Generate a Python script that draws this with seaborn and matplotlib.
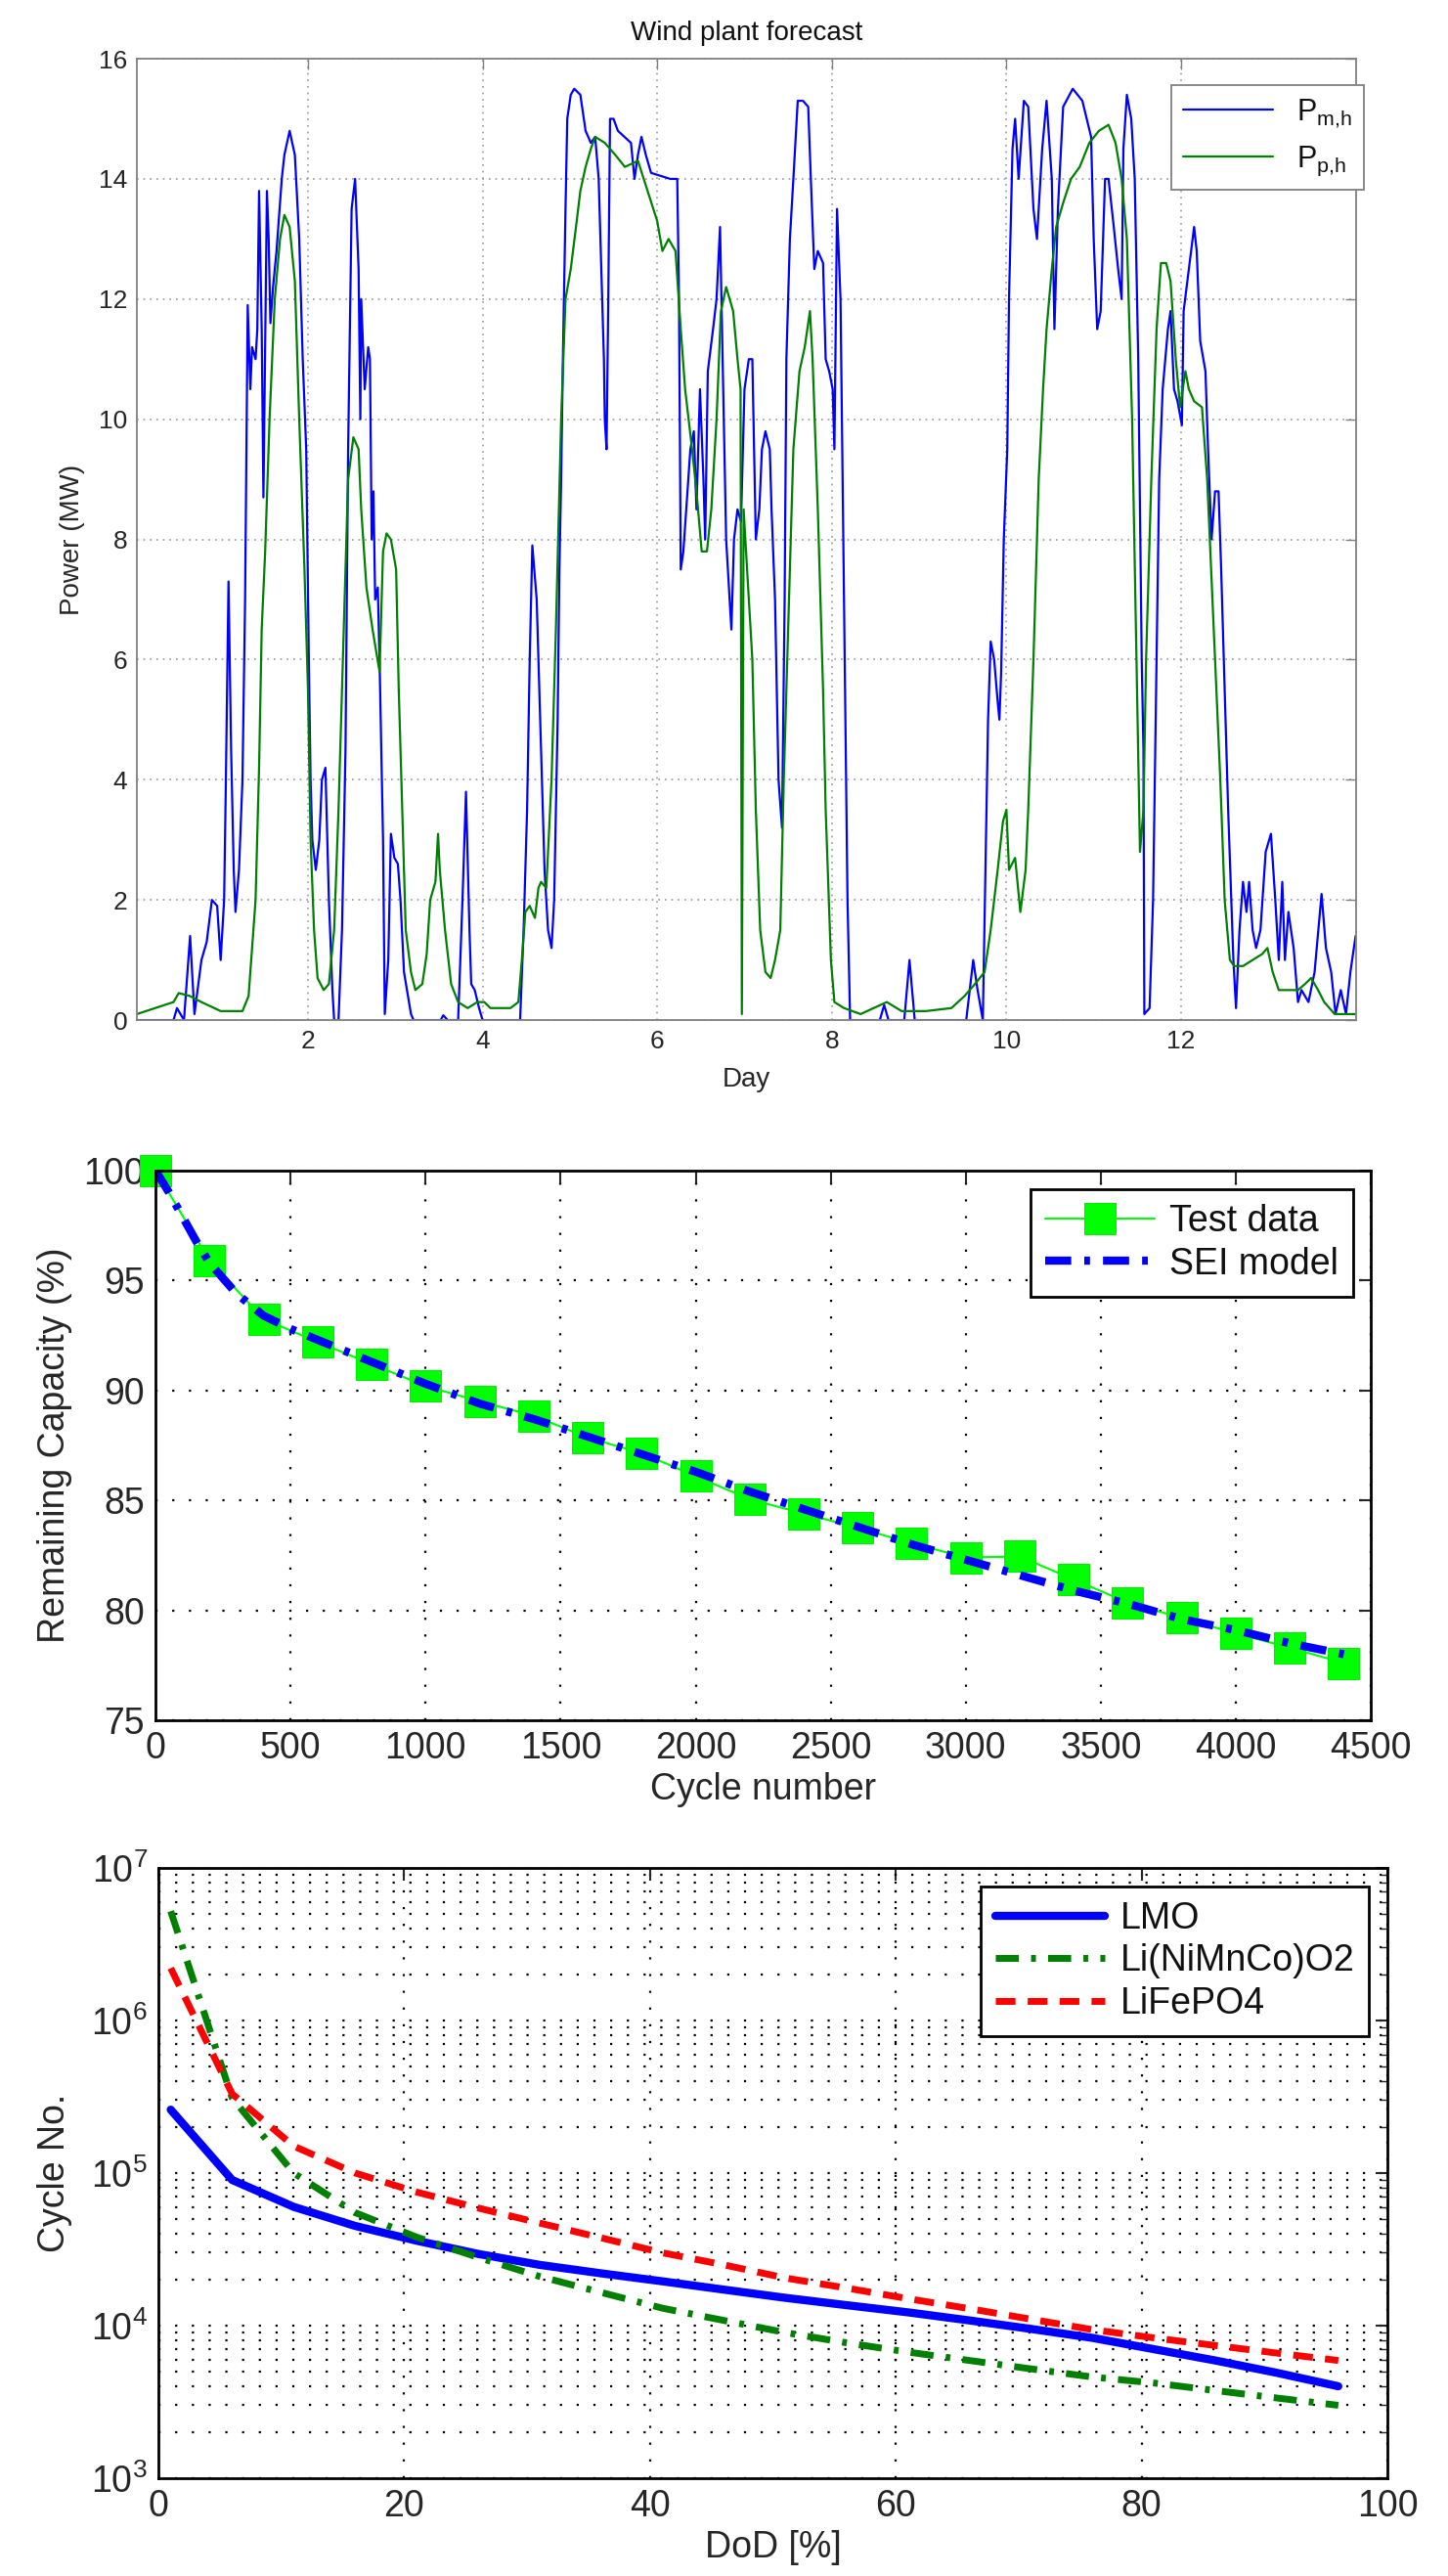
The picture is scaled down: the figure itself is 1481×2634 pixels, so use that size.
import matplotlib
matplotlib.use("Agg")
import matplotlib.pyplot as plt
import seaborn as sns

# ---- panel 1: wind plant forecast (day, MW) ----
day_m = [0.04, 0.46, 0.5, 0.58, 0.65, 0.7, 0.78, 0.84, 0.9, 0.96,
         1.0, 1.04, 1.06, 1.09, 1.12, 1.15, 1.17, 1.21, 1.25, 1.28,
         1.31, 1.34, 1.36, 1.4, 1.42, 1.44, 1.47, 1.49, 1.53, 1.55,
         1.57, 1.6, 1.64, 1.7, 1.73, 1.79, 1.85, 1.9, 1.94, 1.98,
         2.01, 2.03, 2.05, 2.09, 2.13, 2.16, 2.2, 2.24, 2.28, 2.3,
         2.35, 2.39, 2.43, 2.46, 2.48, 2.5, 2.54, 2.58, 2.6, 2.61,
         2.65, 2.69, 2.71, 2.73, 2.75, 2.77, 2.8, 2.82, 2.86, 2.88,
         2.92, 2.95, 2.99, 3.03, 3.06, 3.1, 3.18, 3.21, 3.52, 3.55,
         3.6, 3.72, 3.77, 3.81, 3.85, 3.87, 3.91, 3.96, 4.0, 4.43,
         4.47, 4.51, 4.54, 4.57, 4.62, 4.66, 4.71, 4.75, 4.79, 4.82,
         4.86, 4.88, 4.9, 4.92, 4.95, 4.97, 5.01, 5.05, 5.12, 5.18,
         5.24, 5.29, 5.33, 5.37, 5.39, 5.4, 5.42, 5.44, 5.46, 5.5,
         5.55, 5.7, 5.74, 5.78, 5.82, 5.87, 5.93, 6.15, 6.23, 6.25,
         6.27, 6.3, 6.38, 6.42, 6.45, 6.49, 6.53, 6.55, 6.58, 6.64,
         6.68, 6.72, 6.75, 6.79, 6.83, 6.85, 6.88, 6.92, 6.96, 7.0,
         7.05, 7.09, 7.13, 7.17, 7.2, 7.24, 7.29, 7.31, 7.35, 7.39,
         7.43, 7.46, 7.48, 7.52, 7.56, 7.61, 7.67, 7.73, 7.76, 7.8,
         7.84, 7.9, 7.93, 7.97, 8.01, 8.03, 8.06, 8.1, 8.14, 8.18,
         8.21, 8.55, 8.6, 8.65, 8.83, 8.89, 8.95, 9.54, 9.62, 9.67,
         9.73, 9.79, 9.82, 9.86, 9.9, 9.92, 9.94, 9.97, 10.01, 10.03,
         10.07, 10.1, 10.14, 10.2, 10.25, 10.31, 10.35, 10.41, 10.46, 10.52,
         10.55, 10.59, 10.65, 10.76, 10.87, 10.97, 11.0, 11.04, 11.08, 11.13,
         11.17, 11.23, 11.28, 11.32, 11.34, 11.38, 11.43, 11.47, 11.51, 11.55,
         11.57, 11.58, 11.64, 11.68, 11.72, 11.75, 11.79, 11.85, 11.88, 11.92,
         11.96, 12.01, 12.03, 12.09, 12.15, 12.18, 12.22, 12.28, 12.31, 12.35,
         12.39, 12.43, 12.46, 12.5, 12.54, 12.6, 12.63, 12.67, 12.71, 12.75,
         12.78, 12.82, 12.86, 12.91, 12.97, 13.03, 13.08, 13.12, 13.16, 13.19,
         13.23, 13.29, 13.34, 13.38, 13.46, 13.53, 13.61, 13.66, 13.72, 13.77,
         13.83, 13.89, 13.94, 14.0]
p_m = [0, 0, 0.2, 0, 1.4, 0.1, 1.0, 1.3, 2.0, 1.9,
       1.0, 2.0, 4.0, 7.3, 4.5, 2.5, 1.8, 2.5, 4.0, 7.0,
       11.9, 10.5, 11.2, 11.0, 11.5, 13.8, 11.5, 8.7, 13.8, 13.0,
       11.6, 12.2, 12.8, 14.0, 14.4, 14.8, 14.4, 13.0, 11.0, 9.5,
       6.0, 4.0, 3.0, 2.5, 3.0, 4.0, 4.2, 2.0, 0.5, 0,
       0, 1.5, 4.5, 9.5, 11.5, 13.5, 14.0, 12.5, 10.0, 12.0,
       10.5, 11.2, 11.0, 8.0, 8.8, 7.0, 7.2, 6.0, 3.0, 0.1,
       1.0, 3.1, 2.7, 2.6, 2.0, 0.8, 0.1, 0, 0, 0.08,
       0, 0, 2.0, 3.8, 1.5, 0.6, 0.5, 0.2, 0, 0,
       1.5, 3.5, 6.0, 7.9, 7.0, 5.0, 2.5, 1.5, 1.2, 2.0,
       5.0, 7.5, 9.0, 11.0, 13.5, 15.0, 15.4, 15.5, 15.4, 14.8,
       14.6, 14.7, 14.0, 12.0, 11.0, 10.0, 9.5, 12.0, 15.0, 15.0,
       14.8, 14.6, 14.0, 14.4, 14.7, 14.4, 14.1, 14.0, 14.0, 12.0,
       7.5, 7.8, 9.5, 9.8, 8.5, 10.5, 9.0, 8.0, 10.8, 11.5,
       12.0, 13.2, 11.0, 8.0, 7.0, 6.5, 8.0, 8.5, 8.3, 10.5,
       11.0, 11.0, 8.0, 8.5, 9.5, 9.8, 9.5, 8.5, 7.0, 4.0,
       3.2, 7.0, 11.0, 13.0, 14.0, 15.3, 15.3, 15.2, 14.0, 12.5,
       12.8, 12.6, 11.0, 10.8, 10.5, 9.5, 13.5, 12.0, 7.0, 2.0,
       0, 0, 0.25, 0, 0, 1.0, 0, 0, 1.0, 0.5,
       0, 5.0, 6.3, 6.0, 5.3, 5.0, 5.8, 8.0, 9.5, 12.0,
       14.5, 15.0, 14.0, 15.3, 15.2, 13.5, 13.0, 14.5, 15.3, 14.0,
       11.5, 13.5, 15.2, 15.5, 15.3, 14.7, 13.0, 11.5, 11.8, 14.0,
       14.0, 13.2, 12.5, 12.0, 14.5, 15.4, 15.0, 14.0, 11.0, 6.0,
       4.5, 0.1, 0.2, 2.0, 6.0, 9.0, 10.5, 11.5, 11.8, 10.5,
       10.3, 9.9, 11.8, 12.5, 13.2, 12.8, 11.3, 10.8, 9.5, 8.0,
       8.8, 8.8, 7.5, 5.5, 3.5, 1.0, 0.2, 1.5, 2.3, 1.8,
       2.3, 1.5, 1.2, 1.5, 2.8, 3.1, 2.0, 1.0, 2.3, 1.0,
       1.8, 1.2, 0.3, 0.5, 0.3, 0.8, 2.1, 1.2, 0.8, 0.1,
       0.5, 0.1, 0.8, 1.4]

day_p = [0.04, 0.46, 0.52, 0.65, 0.78, 1.0, 1.25, 1.32, 1.4, 1.44,
         1.47, 1.51, 1.56, 1.62, 1.68, 1.73, 1.79, 1.85, 1.9, 1.96,
         2.0, 2.03, 2.07, 2.11, 2.18, 2.24, 2.3, 2.35, 2.41, 2.46,
         2.52, 2.58, 2.61, 2.67, 2.74, 2.82, 2.86, 2.9, 2.95, 3.01,
         3.04, 3.08, 3.12, 3.18, 3.23, 3.31, 3.36, 3.4, 3.46, 3.49,
         3.51, 3.57, 3.64, 3.72, 3.83, 3.94, 4.02, 4.09, 4.32, 4.41,
         4.45, 4.49, 4.54, 4.6, 4.64, 4.67, 4.73, 4.79, 4.84, 4.9,
         4.95, 5.01, 5.07, 5.12, 5.18, 5.24, 5.29, 5.4, 5.52, 5.63,
         5.78, 5.89, 6.0, 6.06, 6.13, 6.21, 6.27, 6.32, 6.4, 6.45,
         6.51, 6.57, 6.62, 6.68, 6.73, 6.79, 6.87, 6.92, 6.955, 6.97,
         6.99, 7.03, 7.09, 7.13, 7.18, 7.24, 7.3, 7.35, 7.41, 7.45,
         7.5, 7.56, 7.63, 7.69, 7.75, 7.78, 7.84, 7.9, 7.93, 7.99,
         8.03, 8.14, 8.33, 8.63, 8.8, 9.08, 9.37, 9.52, 9.64, 9.75,
         9.82, 9.9, 9.96, 10.0, 10.03, 10.1, 10.16, 10.22, 10.25, 10.31,
         10.37, 10.42, 10.46, 10.52, 10.57, 10.65, 10.74, 10.84, 10.95, 11.06,
         11.17, 11.25, 11.32, 11.38, 11.44, 11.49, 11.53, 11.57, 11.6, 11.66,
         11.72, 11.77, 11.83, 11.88, 11.94, 11.99, 12.05, 12.09, 12.15, 12.24,
         12.3, 12.33, 12.39, 12.45, 12.5, 12.56, 12.61, 12.71, 12.82, 12.93,
         12.99, 13.05, 13.12, 13.23, 13.34, 13.42, 13.49, 13.57, 13.64, 13.76,
         14.0]
p_p = [0.1, 0.3, 0.45, 0.4, 0.3, 0.15, 0.15, 0.4, 2.0, 4.2,
       6.5, 7.8, 10.0, 12.0, 13.0, 13.4, 13.2, 12.3, 10.0, 7.5,
       5.5, 3.0, 1.5, 0.7, 0.5, 0.6, 1.5, 3.5, 6.5, 9.0,
       9.7, 9.5, 8.5, 7.2, 6.5, 5.8, 7.8, 8.1, 8.0, 7.5,
       5.5, 3.5, 1.5, 0.8, 0.5, 0.6, 1.1, 2.0, 2.3, 3.1,
       2.5, 1.5, 0.6, 0.3, 0.2, 0.3, 0.3, 0.2, 0.2, 0.3,
       1.0, 1.8, 1.9, 1.7, 2.2, 2.3, 2.2, 4.0, 6.5, 10.0,
       12.0, 12.5, 13.2, 13.8, 14.2, 14.5, 14.7, 14.6, 14.4, 14.2,
       14.3, 13.8, 13.3, 12.8, 13.0, 12.8, 11.5, 10.5, 9.5, 8.8,
       7.8, 7.8, 8.5, 10.0, 11.8, 12.2, 11.8, 11.0, 10.5, 0.1,
       8.5, 7.5, 6.0, 3.5, 1.5, 0.8, 0.7, 1.0, 1.5, 4.0,
       6.5, 9.5, 10.8, 11.2, 11.8, 11.0, 8.5, 5.5, 3.5, 1.0,
       0.3, 0.2, 0.1, 0.3, 0.15, 0.15, 0.2, 0.4, 0.6, 0.8,
       1.5, 2.5, 3.3, 3.5, 2.5, 2.7, 1.8, 2.5, 3.5, 6.0,
       9.0, 10.5, 11.5, 12.5, 13.2, 13.6, 14.0, 14.2, 14.6, 14.8,
       14.9, 14.6, 14.0, 13.0, 10.0, 6.0, 2.8, 3.5, 6.0, 9.0,
       11.5, 12.6, 12.6, 12.3, 11.0, 10.2, 10.8, 10.5, 10.3, 10.2,
       9.0, 8.0, 6.0, 4.0, 2.0, 1.0, 0.9, 0.9, 1.0, 1.1,
       1.2, 0.8, 0.5, 0.5, 0.5, 0.6, 0.7, 0.5, 0.3, 0.1,
       0.1]

# ---- panel 2: capacity fade ----
cycle_test = [0, 200, 400, 600, 800, 1000, 1200, 1400, 1600, 1800, 2000, 2200,
              2400, 2600, 2800, 3000, 3200, 3400, 3600, 3800, 4000, 4200, 4400]
cap_test = [100.0, 95.9, 93.25, 92.2, 91.2, 90.2, 89.5, 88.85, 87.85, 87.15, 86.1, 85.05,
            84.4, 83.75, 83.05, 82.4, 82.45, 81.4, 80.35, 79.65, 78.95, 78.3, 77.6]
cycle_sei = [0, 50, 100, 150, 200, 300, 400, 500, 600, 800, 1000, 1200, 1400, 1600,
             1800, 2000, 2200, 2400, 2600, 2800, 3000, 3200, 3400, 3600, 3800, 4000,
             4200, 4400]
cap_sei = [100.0, 99.0, 97.9, 96.8, 95.8, 94.4, 93.4, 92.8, 92.3, 91.3, 90.3, 89.4,
           88.7, 87.9, 87.1, 86.3, 85.4, 84.6, 83.8, 83.0, 82.3, 81.6, 80.9, 80.3,
           79.6, 79.1, 78.5, 78.0]

# ---- panel 3: cycle life vs DoD ----
dod = [1, 6, 11, 16, 21, 26, 31, 36, 41, 46, 51, 56, 61, 66, 71, 76, 81, 86, 91, 96]
life_lmo = [2.6e5, 9.0e4, 6.0e4, 4.5e4, 3.6e4, 2.95e4, 2.5e4, 2.2e4, 1.95e4, 1.72e4,
            1.52e4, 1.36e4, 1.22e4, 1.08e4, 9.5e3, 8.3e3, 7.0e3, 5.9e3, 4.9e3, 4.0e3]
life_nmc = [5.2e6, 3.1e5, 1.0e5, 5.5e4, 3.8e4, 2.8e4, 2.1e4, 1.65e4, 1.3e4, 1.08e4,
            9.0e3, 7.7e3, 6.7e3, 5.9e3, 5.2e3, 4.6e3, 4.2e3, 3.75e3, 3.35e3, 3.0e3]
life_lfp = [2.2e6, 3.3e5, 1.5e5, 1.0e5, 7.5e4, 5.9e4, 4.7e4, 3.76e4, 3.0e4, 2.5e4,
            2.05e4, 1.76e4, 1.5e4, 1.29e4, 1.1e4, 9.4e3, 8.3e3, 7.4e3, 6.6e3, 5.9e3]

sns.set_style("white")
plt.rcParams['font.family'] = ['Liberation Sans', 'DejaVu Sans']
plt.rcParams['mathtext.default'] = 'regular'
plt.rcParams['text.color'] = '#111111'

sparse_dots = (0, (1, 6.7))

fig = plt.figure(figsize=(14.81, 26.34), dpi=100)

# panel 1
ax1 = fig.add_axes([0.0945, 0.6040, 0.8417, 0.3732])
sns.lineplot(x=day_m, y=p_m, color='#0000ff', lw=1.6, label=r'$P_{m{,}h}$',
             sort=False, estimator=None, ax=ax1)
sns.lineplot(x=day_p, y=p_p, color='#008000', lw=1.6, label=r'$P_{p{,}h}$',
             sort=False, estimator=None, ax=ax1)
ax1.set_xlim(0.04, 14.0)
ax1.set_ylim(0, 16)
ax1.set_xticks([2, 4, 6, 8, 10, 12])
ax1.set_yticks(range(0, 17, 2))
ax1.grid(True, ls=(0, (1, 3)), color='#999999', lw=1.2)
ax1.tick_params(direction='in', top=True, right=True, length=8, width=1,
                color='#808080', labelsize=19, pad=7)
for s in ax1.spines.values():
    s.set_color('#808080')
    s.set_linewidth(1.3)
ax1.set_title('Wind plant forecast', fontsize=20, pad=14)
ax1.set_xlabel('Day', fontsize=20, labelpad=10)
ax1.set_ylabel('Power (MW)', fontsize=20, labelpad=10)
leg1 = ax1.legend(loc='upper right', bbox_to_anchor=(1.007, 0.9725), borderaxespad=0,
                  fontsize=22, fancybox=False, edgecolor='#808080', handlelength=3.0,
                  framealpha=1)
leg1.get_frame().set_linewidth(1.3)

# panel 2
ax2 = fig.add_axes([0.1074, 0.3322, 0.8393, 0.2134])
sns.lineplot(x=cycle_test, y=cap_test, color='#00ff00', lw=1.5, marker='s',
             markersize=23, markeredgecolor='#00ee00', label='Test data',
             sort=False, estimator=None, clip_on=False, ax=ax2)
sns.lineplot(x=cycle_sei, y=cap_sei, color='#0000ff', lw=6, label='SEI model',
             sort=False, estimator=None, ax=ax2)
ax2.lines[-1].set_linestyle((0, (3.2, 1.6, 0.7, 1.6)))
ax2.set_xlim(0, 4500)
ax2.set_ylim(75, 100)
ax2.set_xticks(range(0, 4501, 500))
ax2.set_yticks(range(75, 101, 5))
ax2.grid(True, ls=sparse_dots, color='k', lw=1.6)
ax2.tick_params(direction='in', top=True, right=True, length=9, width=1.5,
                labelsize=27, pad=8)
for s in ax2.spines.values():
    s.set_color('k')
    s.set_linewidth(2)
ax2.set_xlabel('Cycle number', fontsize=27, labelpad=4)
ax2.set_ylabel('Remaining Capacity (%)', fontsize=27, labelpad=8)
leg2 = ax2.legend(loc='upper right', bbox_to_anchor=(0.9855, 0.966), borderaxespad=0,
                  fontsize=27, fancybox=False, edgecolor='k', handlelength=3.0,
                  labelspacing=0.2, handletextpad=0.4, framealpha=1)
leg2.get_frame().set_linewidth(2)

# panel 3
ax3 = fig.add_axes([0.1094, 0.0380, 0.8488, 0.2369])
ax3.set_yscale('log')
sns.lineplot(x=dod, y=life_lmo, color='#0000ff', lw=6, label='LMO',
             sort=False, estimator=None, ax=ax3)
sns.lineplot(x=dod, y=life_nmc, color='#008000', lw=5, label='Li(NiMnCo)O2',
             sort=False, estimator=None, ax=ax3)
ax3.lines[-1].set_linestyle((0, (3.4, 1.8, 0.7, 1.8)))
sns.lineplot(x=dod, y=life_lfp, color='#ff0000', lw=5, label='LiFePO4',
             sort=False, estimator=None, ax=ax3)
ax3.lines[-1].set_linestyle((0, (2.9, 1.8)))
ax3.set_xlim(0, 100)
ax3.set_ylim(1e3, 1e7)
ax3.set_xticks(range(0, 101, 20))
ax3.grid(True, which='both', ls=sparse_dots, color='k', lw=1.6)
ax3.tick_params(which='both', direction='in', top=True, right=True, labelsize=27, pad=8)
ax3.tick_params(which='major', length=9, width=1.5)
ax3.tick_params(which='minor', length=5, width=1)
for s in ax3.spines.values():
    s.set_color('k')
    s.set_linewidth(2)
ax3.set_xlabel('DoD [%]', fontsize=27, labelpad=4)
ax3.set_ylabel('Cycle No.', fontsize=27, labelpad=14)
leg3 = ax3.legend(loc='upper right', bbox_to_anchor=(0.985, 0.970), borderaxespad=0,
                  fontsize=27, fancybox=False, edgecolor='k', handlelength=3.0,
                  labelspacing=0.2, handletextpad=0.4, framealpha=1)
leg3.get_frame().set_linewidth(2)

fig.savefig('out.png', dpi=100)
